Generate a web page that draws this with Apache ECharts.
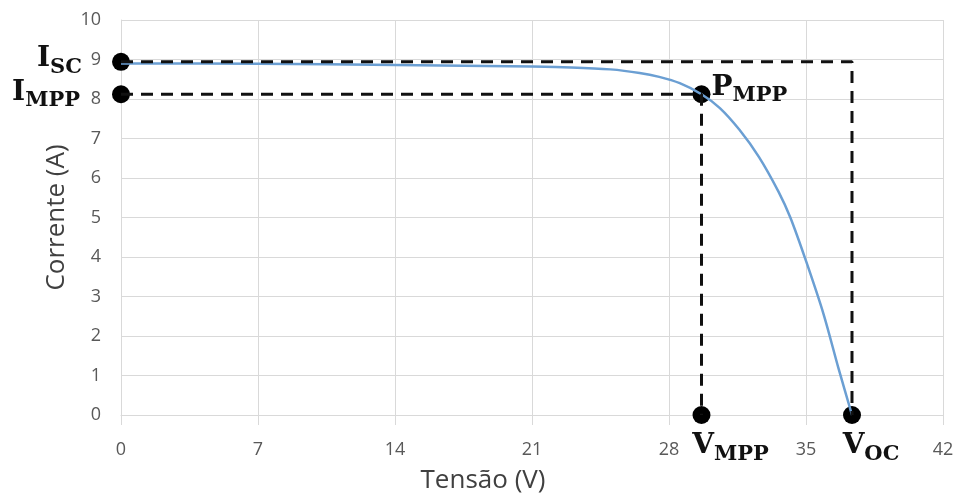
<!DOCTYPE html>
<html>
<head>
<meta charset="utf-8">
<script src="https://cdn.jsdelivr.net/npm/echarts@6/dist/echarts.min.js"></script>
<style>
  html, body { margin: 0; padding: 0; background: #fff; }
  #chart { width: 965px; height: 502px; }
</style>
</head>
<body>
<div id="chart"></div>
<script>
// I-V curve of the module
const voltage = [0, 7, 14, 21, 23, 25, 26.5, 27.5, 28.55, 29.66, 30.6, 31.6, 32.6, 33.6, 34.2, 35.0, 35.9, 36.65, 37.35]
const current = [8.9, 8.89, 8.86, 8.82, 8.8, 8.75, 8.66, 8.56, 8.4, 8.12, 7.77, 7.22, 6.53, 5.65, 5.0, 3.9, 2.55, 1.2, 0]

// characteristic points
const isc = 8.94
const impp = 8.12
const vmpp = 29.66
const voc = 37.35

const xTicks = { min: 0, max: 42, interval: 7 }
const yTicks = { min: 0, max: 10, interval: 1 }

const curve = voltage.map((v, i) => [v, current[i]])
const iscLine = [[0, isc], [voc, isc], [voc, 0]]
const imppLine = [[0, impp], [vmpp, impp], [vmpp, 0]]

const serif = 'DejaVu Serif'
const rich = {
  m: { fontFamily: serif, fontWeight: 'bold', fontSize: 28, lineHeight: 28, color: '#111', verticalAlign: 'bottom', padding: [0, 0, 5, 0] },
  s: { fontFamily: serif, fontWeight: 'bold', fontSize: 21, lineHeight: 21, color: '#111', verticalAlign: 'bottom' }
}
const mk = (txt) => {
  const [a, b] = txt.split('_')
  return '{m|' + a + '}{s|' + b + '}'
}

const points = [
  { value: [0, isc], label: { formatter: mk('I_SC'), position: 'left', distance: 30, offset: [0, 2] } },
  { value: [0, impp], label: { formatter: mk('I_MPP'), position: 'left', distance: 32, offset: [0, 3] } },
  { value: [vmpp, impp], label: { formatter: mk('P_MPP'), position: 'right', distance: 1, offset: [0, -2] } },
  { value: [vmpp, 0], label: { formatter: mk('V_MPP'), position: 'bottom', distance: 13, offset: [29, 0] } },
  { value: [voc, 0], label: { formatter: mk('V_OC'), position: 'bottom', distance: 13, offset: [19, 0] } }
]

const chart = echarts.init(document.getElementById('chart'))
const tickText = { color: '#595959', fontSize: 18, fontFamily: 'Open Sans' }
const gridColor = '#d9d9d9'

chart.setOption({
  animation: false,
  grid: { left: 121, right: 22, top: 20, bottom: 87 },
  xAxis: {
    type: 'value',
    min: xTicks.min, max: xTicks.max, interval: xTicks.interval,
    name: 'Tensão (V)',
    nameLocation: 'middle',
    nameGap: 53,
    nameTextStyle: { color: '#404040', fontSize: 26, fontFamily: 'Open Sans', padding: [0, 98, 0, 0] },
    axisLine: { lineStyle: { color: gridColor } },
    axisTick: { show: true, length: 10, lineStyle: { color: gridColor } },
    axisLabel: Object.assign({ margin: 26 }, tickText),
    splitLine: { lineStyle: { color: gridColor } }
  },
  yAxis: {
    type: 'value',
    min: yTicks.min, max: yTicks.max, interval: yTicks.interval,
    name: 'Corrente (A)',
    nameLocation: 'middle',
    nameGap: 46,
    nameTextStyle: { color: '#404040', fontSize: 26, fontFamily: 'Open Sans' },
    axisLine: { show: true, lineStyle: { color: gridColor } },
    axisTick: { show: false },
    axisLabel: Object.assign({ margin: 20 }, tickText),
    splitLine: { lineStyle: { color: gridColor } }
  },
  series: [
    {
      type: 'line',
      data: curve,
      smooth: 0.3,
      showSymbol: false,
      lineStyle: { color: '#6b9fd3', width: 2.5 }
    },
    {
      type: 'line',
      data: iscLine,
      showSymbol: false,
      lineStyle: { color: '#111', width: 3, type: [12, 8] }
    },
    {
      type: 'line',
      data: imppLine,
      showSymbol: false,
      lineStyle: { color: '#111', width: 3, type: [12, 8] }
    },
    {
      type: 'scatter',
      data: points,
      symbolSize: 18,
      clip: false,
      itemStyle: { color: '#000', opacity: 1 },
      label: { show: true, rich: rich }
    }
  ]
})
</script>
</body>
</html>
